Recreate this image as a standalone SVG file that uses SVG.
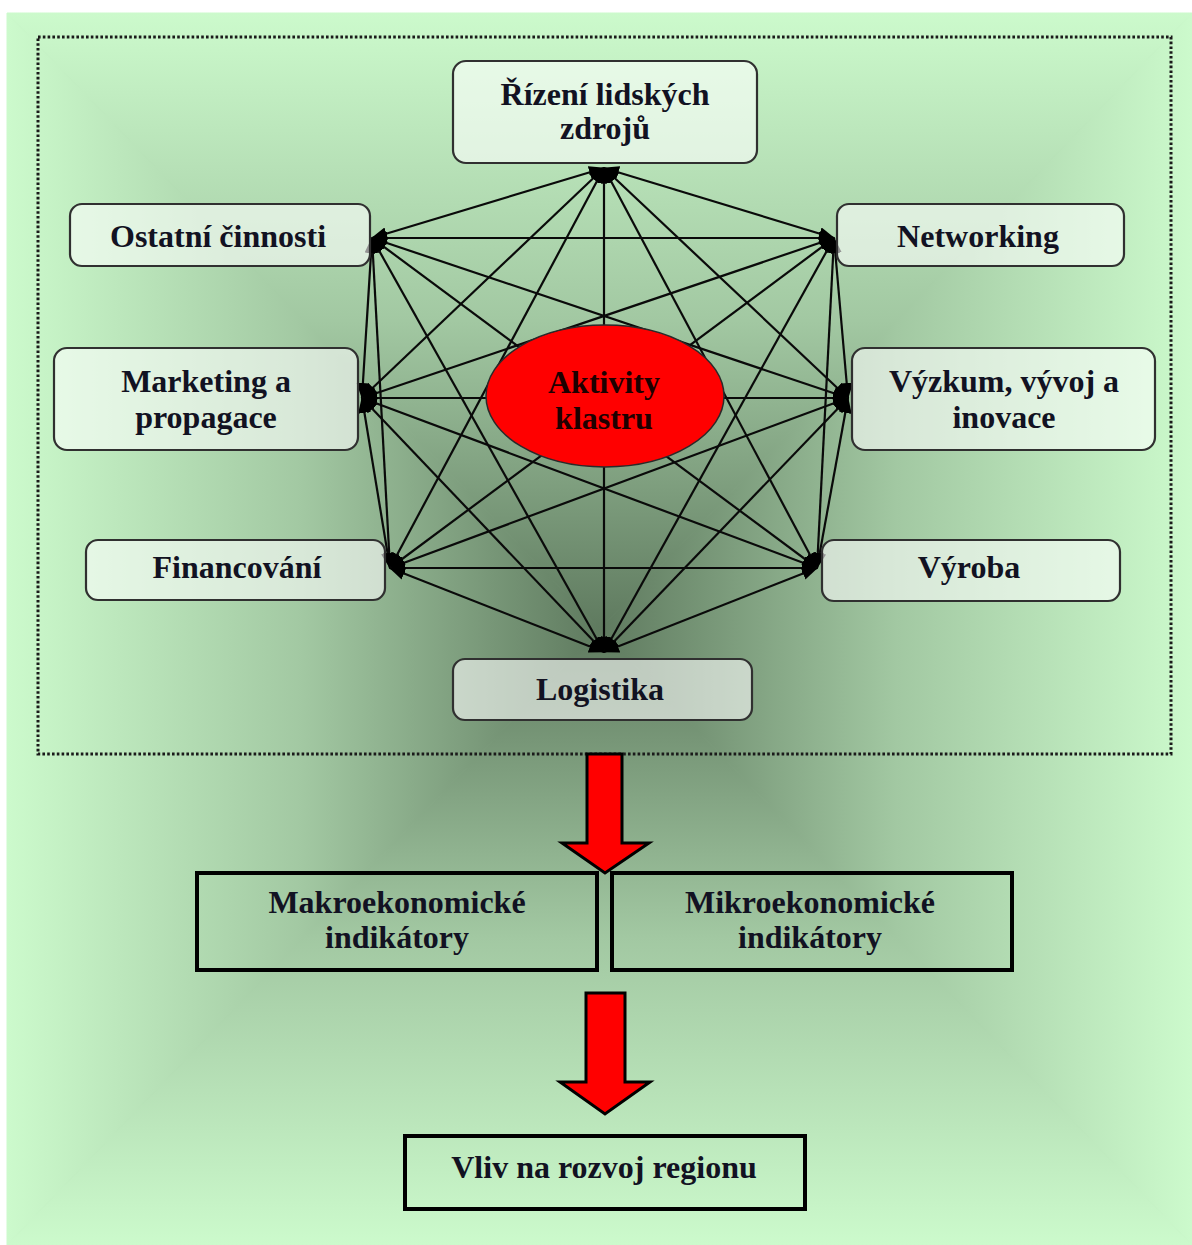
<svg xmlns="http://www.w3.org/2000/svg" width="1192" height="1245" viewBox="0 0 1192 1245">
<defs>
  <linearGradient id="gTop" gradientUnits="userSpaceOnUse" x1="0" y1="629" x2="0" y2="13">
    <stop offset="0" stop-color="#5f7a5f"/><stop offset="0.5" stop-color="#a2c8a2"/><stop offset="1" stop-color="#ccfacc"/>
  </linearGradient>
  <linearGradient id="gBot" gradientUnits="userSpaceOnUse" x1="0" y1="629" x2="0" y2="1245">
    <stop offset="0" stop-color="#5f7a5f"/><stop offset="0.5" stop-color="#a2c8a2"/><stop offset="1" stop-color="#ccfacc"/>
  </linearGradient>
  <linearGradient id="gLeft" gradientUnits="userSpaceOnUse" x1="600" y1="0" x2="7" y2="0">
    <stop offset="0" stop-color="#5f7a5f"/><stop offset="0.5" stop-color="#a2c8a2"/><stop offset="1" stop-color="#ccfacc"/>
  </linearGradient>
  <linearGradient id="gRight" gradientUnits="userSpaceOnUse" x1="600" y1="0" x2="1192" y2="0">
    <stop offset="0" stop-color="#5f7a5f"/><stop offset="0.5" stop-color="#a2c8a2"/><stop offset="1" stop-color="#ccfacc"/>
  </linearGradient>
  <marker id="ah" markerUnits="userSpaceOnUse" markerWidth="16" markerHeight="13" refX="15" refY="6.5" orient="auto-start-reverse" viewBox="0 0 16 13">
    <path d="M0,0 L16,6.5 L0,13 z" fill="#000"/>
  </marker>
  <style>
    .node rect { fill: #ffffff; fill-opacity: 0.58; stroke: #303030; stroke-width: 2.2; }
    .t { font-family: "Liberation Serif", "Times New Roman", serif; font-weight: bold; font-size: 32px; fill: #121222; text-anchor: middle; }
    .conn line { stroke: #0a0a0a; stroke-width: 2.2; marker-start: url(#ah); marker-end: url(#ah); }
    .box rect { fill: none; stroke: #000; stroke-width: 4; }
    .bigarrow { fill: #ff0000; stroke: #000; stroke-width: 3; stroke-linejoin: miter; }
  </style>
</defs>

<g id="background">
  <rect x="7" y="13" width="1185" height="1232" fill="#a2c8a2"/>
  <polygon points="7,13 1192,13 600,629" fill="url(#gTop)" stroke="url(#gTop)" stroke-width="1"/>
  <polygon points="7,1245 1192,1245 600,629" fill="url(#gBot)" stroke="url(#gBot)" stroke-width="1"/>
  <polygon points="7,13 7,1245 600,629" fill="url(#gLeft)" stroke="url(#gLeft)" stroke-width="1"/>
  <polygon points="1192,13 1192,1245 600,629" fill="url(#gRight)" stroke="url(#gRight)" stroke-width="1"/>
</g>

<rect id="frame" x="38" y="37" width="1133" height="717" fill="none" stroke="#1a1a1a" stroke-width="3" stroke-dasharray="2.6 2.2"/>

<g id="connectors" class="conn">
  <line x1="604" y1="168" x2="372" y2="238"/>
  <line x1="604" y1="168" x2="834" y2="238"/>
  <line x1="604" y1="168" x2="362" y2="398"/>
  <line x1="604" y1="168" x2="848" y2="398"/>
  <line x1="604" y1="168" x2="390" y2="568"/>
  <line x1="604" y1="168" x2="817" y2="568"/>
  <line x1="604" y1="168" x2="604" y2="652"/>
  <line x1="372" y1="238" x2="834" y2="238"/>
  <line x1="372" y1="238" x2="362" y2="398"/>
  <line x1="372" y1="238" x2="848" y2="398"/>
  <line x1="372" y1="238" x2="390" y2="568"/>
  <line x1="372" y1="238" x2="817" y2="568"/>
  <line x1="372" y1="238" x2="604" y2="652"/>
  <line x1="834" y1="238" x2="362" y2="398"/>
  <line x1="834" y1="238" x2="848" y2="398"/>
  <line x1="834" y1="238" x2="390" y2="568"/>
  <line x1="834" y1="238" x2="817" y2="568"/>
  <line x1="834" y1="238" x2="604" y2="652"/>
  <line x1="362" y1="398" x2="848" y2="398"/>
  <line x1="362" y1="398" x2="390" y2="568"/>
  <line x1="362" y1="398" x2="817" y2="568"/>
  <line x1="362" y1="398" x2="604" y2="652"/>
  <line x1="848" y1="398" x2="390" y2="568"/>
  <line x1="848" y1="398" x2="817" y2="568"/>
  <line x1="848" y1="398" x2="604" y2="652"/>
  <line x1="390" y1="568" x2="817" y2="568"/>
  <line x1="390" y1="568" x2="604" y2="652"/>
  <line x1="817" y1="568" x2="604" y2="652"/>
</g>

<g id="n-rizeni" class="node">
  <rect x="453" y="61" width="304" height="102" rx="13"/>
  <text class="t" x="605" y="105">Řízení lidských</text>
  <text class="t" x="605" y="139">zdrojů</text>
</g>
<g id="n-ostatni" class="node">
  <rect x="70" y="204" width="300" height="62" rx="12"/>
  <text class="t" x="218" y="247">Ostatní činnosti</text>
</g>
<g id="n-networking" class="node">
  <rect x="837" y="204" width="287" height="62" rx="12"/>
  <text class="t" x="978" y="247">Networking</text>
</g>
<g id="n-marketing" class="node">
  <rect x="54" y="348" width="304" height="102" rx="13"/>
  <text class="t" x="206" y="392">Marketing a</text>
  <text class="t" x="206" y="428">propagace</text>
</g>
<g id="n-vyzkum" class="node">
  <rect x="852" y="348" width="303" height="102" rx="13"/>
  <text class="t" x="1004" y="392">Výzkum, vývoj a</text>
  <text class="t" x="1004" y="428">inovace</text>
</g>
<g id="n-financovani" class="node">
  <rect x="86" y="540" width="299" height="60" rx="12"/>
  <text class="t" x="237" y="578">Financování</text>
</g>
<g id="n-vyroba" class="node">
  <rect x="822" y="540" width="298" height="61" rx="12"/>
  <text class="t" x="969" y="578">Výroba</text>
</g>
<g id="n-logistika" class="node">
  <rect x="453" y="659" width="299" height="61" rx="12"/>
  <text class="t" x="600" y="700">Logistika</text>
</g>

<g id="n-aktivity">
  <ellipse cx="605" cy="396" rx="119" ry="71" fill="#ff0000" stroke="#2a2a2a" stroke-width="1.5"/>
  <text class="t" x="604" y="393" style="fill:#1e0000">Aktivity</text>
  <text class="t" x="604" y="429" style="fill:#1e0000">klastru</text>
</g>

<polygon id="arrow1" class="bigarrow" points="587,754 622,754 622,843 649,843 605,873 562,843 587,843"/>

<g id="n-makro" class="box">
  <rect x="197" y="873" width="400" height="97"/>
  <text class="t" x="397" y="913">Makroekonomické</text>
  <text class="t" x="397" y="948">indikátory</text>
</g>
<g id="n-mikro" class="box">
  <rect x="612" y="873" width="400" height="97"/>
  <text class="t" x="810" y="913">Mikroekonomické</text>
  <text class="t" x="810" y="948">indikátory</text>
</g>

<polygon id="arrow2" class="bigarrow" points="586,993 625,993 625,1082 650,1082 605,1114 560,1082 586,1082"/>

<g id="n-vliv" class="box">
  <rect x="405" y="1136" width="400" height="73"/>
  <text class="t" x="604" y="1178">Vliv na rozvoj regionu</text>
</g>
</svg>
